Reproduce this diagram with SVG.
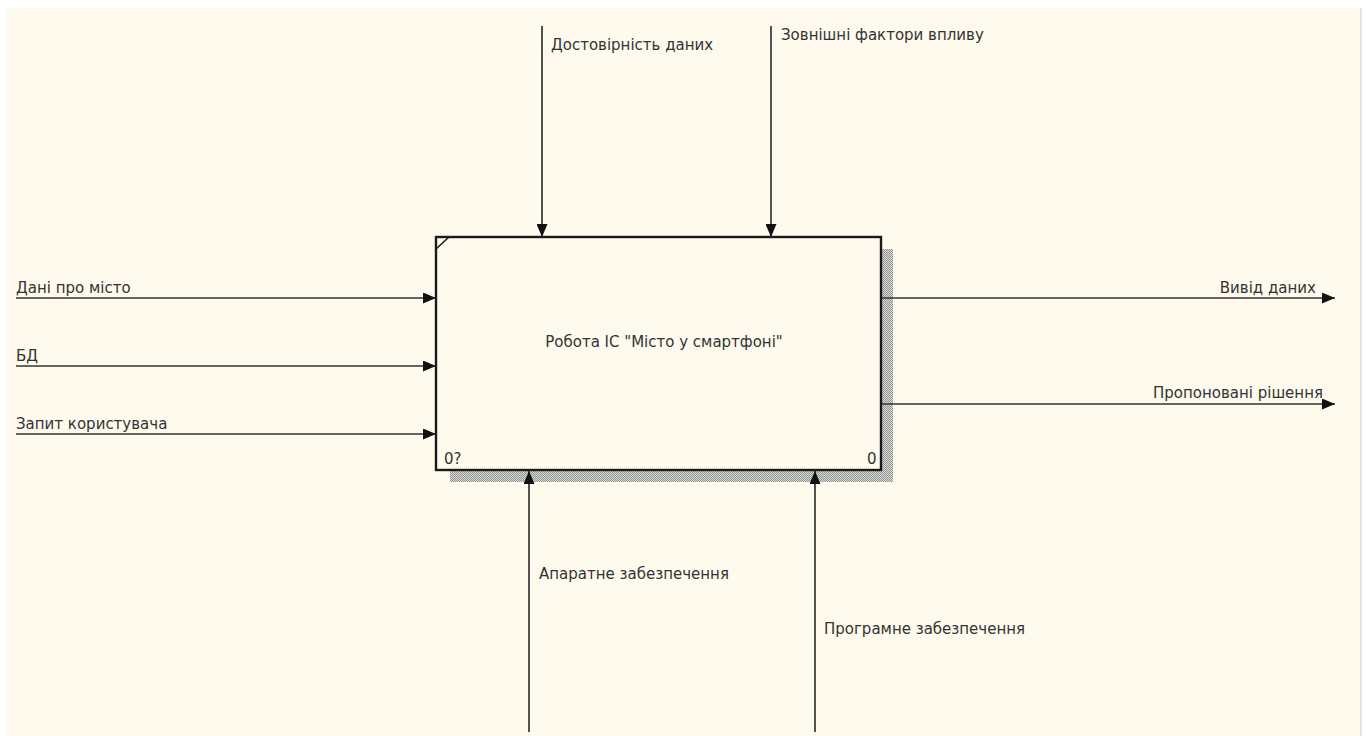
<svg xmlns="http://www.w3.org/2000/svg" width="1366" height="736" viewBox="0 0 1366 736">
  <style>
    .lbl { font-family: "DejaVu Sans", Verdana, sans-serif; font-size: 15px; fill: #333; }
    .wire { stroke: #333; stroke-width: 1.7; fill: none; }
    .box { fill: #fefaee; stroke: #1a1a1a; stroke-width: 2.4; }
  </style>
  <defs>
    <marker id="arrow" markerWidth="13" markerHeight="11" refX="13" refY="5.5" orient="auto" markerUnits="userSpaceOnUse">
      <path d="M0,0 L13,5.5 L0,11 Z" fill="#111"/>
    </marker>
    <pattern id="hatch" width="2" height="2" patternUnits="userSpaceOnUse">
      <rect width="2" height="2" fill="#d8d8d4"/>
      <rect width="1" height="1" fill="#959592"/>
      <rect x="1" y="1" width="1" height="1" fill="#959592"/>
    </pattern>
  </defs>

  <!-- canvas -->
  <rect width="1366" height="736" fill="#ffffff"/>
  <rect x="6" y="8" width="1355" height="728" fill="#fefaee"/>
  <line x1="1361" y1="8" x2="1361" y2="736" stroke="#e2ddd0" stroke-width="1.5"/>

  <!-- activity box A0 -->
  <g id="node-a0">
    <rect x="882" y="249" width="11" height="233" fill="url(#hatch)"/>
    <rect x="450" y="471" width="443" height="11" fill="url(#hatch)"/>
    <rect class="box" x="436" y="237" width="445" height="233"/>
    <line x1="436" y1="249" x2="449" y2="237" stroke="#1a1a1a" stroke-width="1.6"/>
    <text class="lbl" x="664" y="347" text-anchor="middle">Робота ІС "Місто у смартфоні"</text>
    <text class="lbl" x="444" y="464">0?</text>
    <text class="lbl" x="867" y="464">0</text>
  </g>

  <!-- arrows -->
  <g id="connectors">
    <!-- controls -->
    <line class="wire" x1="542" y1="26" x2="542" y2="237" marker-end="url(#arrow)"/>
    <line class="wire" x1="771" y1="26" x2="771" y2="237" marker-end="url(#arrow)"/>
    <!-- inputs -->
    <line class="wire" x1="16" y1="298" x2="436" y2="298" marker-end="url(#arrow)"/>
    <line class="wire" x1="16" y1="366" x2="436" y2="366" marker-end="url(#arrow)"/>
    <line class="wire" x1="16" y1="434" x2="436" y2="434" marker-end="url(#arrow)"/>
    <!-- outputs -->
    <line class="wire" x1="882" y1="298" x2="1335" y2="298" marker-end="url(#arrow)"/>
    <line class="wire" x1="882" y1="404" x2="1335" y2="404" marker-end="url(#arrow)"/>
    <!-- mechanisms -->
    <line class="wire" x1="529" y1="732" x2="529" y2="471" marker-end="url(#arrow)"/>
    <line class="wire" x1="815" y1="732" x2="815" y2="471" marker-end="url(#arrow)"/>
  </g>

  <g id="labels">
    <text class="lbl" x="551" y="50">Достовірність даних</text>
    <text class="lbl" x="781" y="40">Зовнішні фактори впливу</text>
    <text class="lbl" x="16" y="293">Дані про місто</text>
    <text class="lbl" x="16" y="361">БД</text>
    <text class="lbl" x="16" y="429">Запит користувача</text>
    <text class="lbl" x="1316" y="293" text-anchor="end">Вивід даних</text>
    <text class="lbl" x="1323" y="398" text-anchor="end">Пропоновані рішення</text>
    <text class="lbl" x="539" y="579">Апаратне забезпечення</text>
    <text class="lbl" x="824" y="634">Програмне забезпечення</text>
  </g>
</svg>
